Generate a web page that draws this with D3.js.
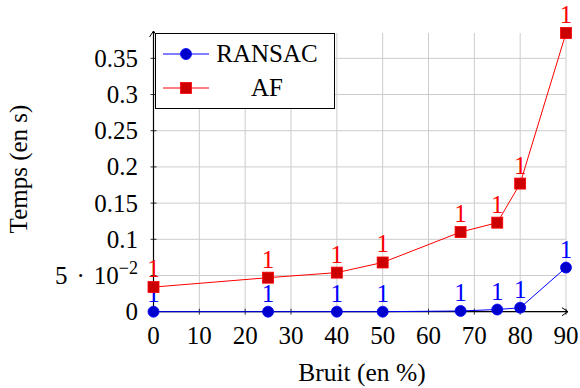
<!DOCTYPE html>
<html>
<head>
<meta charset="utf-8">
<script src="https://cdn.jsdelivr.net/npm/d3@7"></script>
<style>
body { margin: 0; background: #fff; }
text { font-family: 'Liberation Serif', 'Times New Roman', Times, 'DejaVu Serif', serif; }
</style>
</head>
<body>
<svg id="chart" width="580" height="388"></svg>
<script>
"use strict";

// data
const noise = [0, 25, 40, 50, 67, 75, 80, 90];
const ransac = [0, 0, 0, 0, 0.001, 0.003, 0.0055, 0.061];
const af = [0.034, 0.047, 0.054, 0.068, 0.11, 0.123, 0.177, 0.385];
const pointLabel = "1";
const xTicks = [0, 10, 20, 30, 40, 50, 60, 70, 80, 90];
const yTicks = [0, 0.05, 0.1, 0.15, 0.2, 0.25, 0.3, 0.35];
const seriesNames = ["RANSAC", "AF"];

(function()
{
	let svg = d3.select("svg#chart");
	let x = d3.scaleLinear().domain([0, 90]).range([153.5, 566]);
	let y = d3.scaleLinear().domain([0, 0.385]).range([311.7, 33]);
	let fs = 25;

	//grid
	let grid = svg.append("g").attr("stroke", "#cccccc").attr("stroke-width", 1);
	for (let t of xTicks)
	{
		grid.append("line")
			.attr("x1", x(t)).attr("x2", x(t))
			.attr("y1", y(0)).attr("y2", y.range()[1]);
	}
	for (let t of yTicks)
	{
		grid.append("line")
			.attr("x1", x(0)).attr("x2", x(90))
			.attr("y1", y(t)).attr("y2", y(t));
	}

	//axes
	let axes = svg.append("g").attr("stroke", "#000").attr("stroke-width", 1.2);
	axes.append("line").attr("x1", x(0)).attr("x2", x(90) + 2)
		.attr("y1", y(0)).attr("y2", y(0));
	axes.append("line").attr("x1", x(0)).attr("x2", x(0))
		.attr("y1", y(0)).attr("y2", y.range()[1] - 2);
	axes.append("path").attr("fill", "none").attr("stroke-width", 1)
		.attr("d", `M${x(90) - 4},${y(0) - 4} L${x(90) + 2},${y(0)} L${x(90) - 4},${y(0) + 4}`);
	axes.append("path").attr("fill", "none").attr("stroke-width", 1)
		.attr("d", `M${x(0) - 4},${y.range()[1] + 4} L${x(0)},${y.range()[1] - 2} L${x(0) + 4},${y.range()[1] + 4}`);
	for (let t of xTicks)
	{
		axes.append("line").attr("stroke-width", 0.8)
			.attr("x1", x(t)).attr("x2", x(t))
			.attr("y1", y(0) - 3).attr("y2", y(0) + 3);
	}
	for (let t of yTicks)
	{
		axes.append("line").attr("stroke-width", 0.8)
			.attr("x1", x(0) - 3).attr("x2", x(0) + 3)
			.attr("y1", y(t)).attr("y2", y(t));
	}

	//tick labels
	let labels = svg.append("g").attr("font-size", fs).attr("fill", "#000");
	for (let t of xTicks)
	{
		labels.append("text")
			.attr("x", x(t)).attr("y", 344)
			.attr("text-anchor", "middle")
			.text(t);
	}
	for (let t of yTicks)
	{
		let txt = labels.append("text")
			.attr("x", 138).attr("y", y(t) + 8.5)
			.attr("text-anchor", "end");
		if (Math.abs(t - 0.05) < 1e-9)
		{
			txt.append("tspan").text("5");
			txt.append("tspan").attr("dx", 9).text("\u00b7");
			txt.append("tspan").attr("dx", 9).text("10");
			txt.append("tspan").attr("font-size", 18).attr("dy", -10).text("\u22122");
		}
		else
		{
			txt.text(d3.format("~g")(t));
		}
	}

	//axis titles
	svg.append("text")
		.attr("font-size", 25.5)
		.attr("text-anchor", "middle")
		.attr("x", 362).attr("y", 381)
		.text("Bruit (en %)");
	svg.append("text")
		.attr("font-size", 25)
		.attr("text-anchor", "middle")
		.attr("transform", "translate(27,169) rotate(-90)")
		.text("Temps (en s)");

	//series
	let line = d3.line()
		.x(function(d) { return x(d[0]); })
		.y(function(d) { return y(d[1]); });

	let series = [
		{ name: seriesNames[0], values: ransac, stroke: "#0000ff", fill: "#0000cc", mark: "circle" },
		{ name: seriesNames[1], values: af, stroke: "#ff0000", fill: "#cc0000", mark: "square" }
	];

	function draw_mark(g, s, cx, cy)
	{
		if (s.mark === "circle")
		{
			g.append("circle").attr("cx", cx).attr("cy", cy).attr("r", 5.5)
				.attr("fill", s.fill).attr("stroke", s.stroke).attr("stroke-width", 0.8);
		}
		else
		{
			g.append("rect").attr("x", cx - 5.5).attr("y", cy - 5.5)
				.attr("width", 11).attr("height", 11)
				.attr("fill", s.fill).attr("stroke", s.stroke).attr("stroke-width", 0.8);
		}
	}

	for (let s of series)
	{
		let pts = noise.map(function(n, i) { return [n, s.values[i]]; });
		let g = svg.append("g");
		g.append("path")
			.attr("fill", "none")
			.attr("stroke", s.stroke)
			.attr("stroke-width", 1)
			.attr("d", line(pts));
		for (let p of pts)
		{
			draw_mark(g, s, x(p[0]), y(p[1]));
			g.append("text")
				.attr("font-size", 25)
				.attr("fill", s.stroke)
				.attr("text-anchor", "middle")
				.attr("x", x(p[0])).attr("y", y(p[1]) - 10)
				.text(pointLabel);
		}
	}

	//legend
	let legend = svg.append("g");
	legend.append("rect")
		.attr("x", 155.5).attr("y", 33.5).attr("width", 179).attr("height", 75)
		.attr("fill", "#fff").attr("stroke", "#000").attr("stroke-width", 1);
	series.forEach(function(s, i)
	{
		let ly = 54 + i * 34;
		legend.append("line")
			.attr("x1", 163).attr("x2", 209).attr("y1", ly).attr("y2", ly)
			.attr("stroke", s.stroke).attr("stroke-width", 1);
		draw_mark(legend, s, 186, ly);
		legend.append("text")
			.attr("font-size", 25)
			.attr("text-anchor", "middle")
			.attr("x", 267).attr("y", ly + 8)
			.text(s.name);
	});
})();
</script>
</body>
</html>
